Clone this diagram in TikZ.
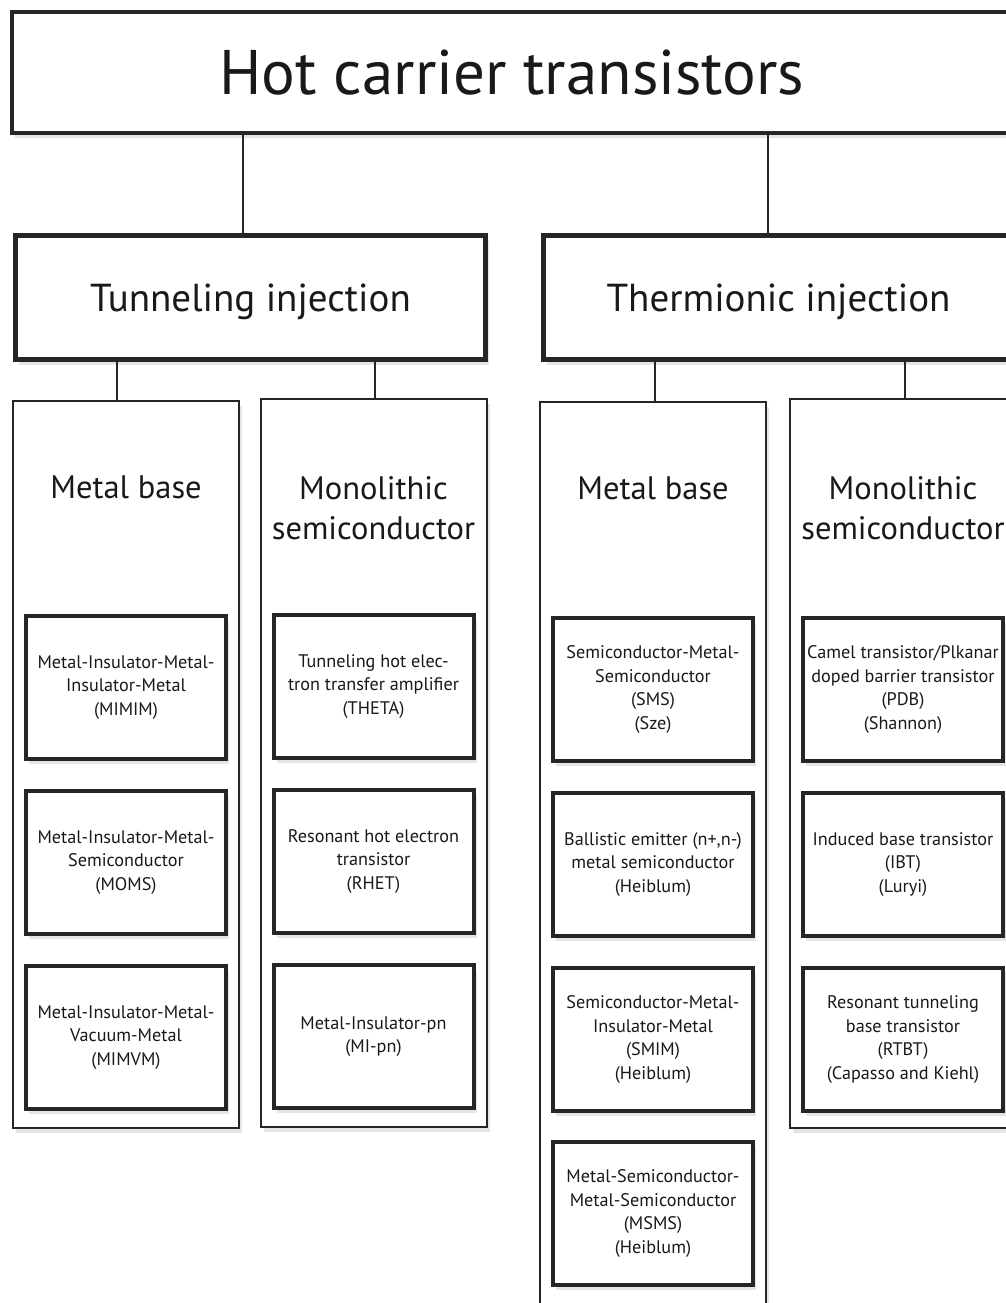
\documentclass[tikz,border=0pt]{standalone}
\usepackage{fontspec}
\setmainfont{PT Sans}
\usetikzlibrary{positioning,shadows}

\tikzset{
  box/.style={draw=black!85, fill=white,
    drop shadow={shadow xshift=3pt, shadow yshift=-5pt, opacity=0.2}},
  topbox/.style={box, line width=4pt, minimum width=1000pt, minimum height=121pt,
    font=\fontsize{63}{66}\selectfont},
  injbox/.style={box, line width=5pt, minimum width=470pt, minimum height=124pt,
    text depth=0pt, font=\fontsize{39}{44}\selectfont},
  column/.style={box, line width=2pt, minimum width=226pt, anchor=north},
  headtext/.style={font=\fontsize{32.5}{40}\selectfont, align=center, inner sep=0pt},
  typebox/.style={box, line width=4pt, minimum width=200pt, minimum height=143pt,
    align=center, inner sep=0pt, font=\fontsize{18.2}{23.5}\selectfont},
  link/.style={line width=2.5pt, draw=black!85},
}

\begin{document}
\begin{tikzpicture}[x=1pt,y=-1pt,text=black!90]
  \useasboundingbox (0,0) rectangle (1005,1303);
  \fill[white] (0,0) rectangle (1005,1303);

  % top level
  \node[topbox] (top) at (512,72.5) {Hot carrier transistors};
  \node[injbox] (tun) at (250.5,297.5) {Tunneling injection};
  \node[injbox] (therm) at (778.5,297.5) {Thermionic injection};

  % columns
  \node[column, minimum height=727pt] (tunmb) at (126,400) {};
  \node[column, minimum height=728pt] (tunmono) at (373.5,398) {};
  \node[column, minimum height=960pt] (thmb) at (653,401) {};
  \node[column, minimum height=729pt] (thmono) at (903,398) {};

  \node[headtext, below=76pt of tunmb.north] (tunmbt) {Metal base};
  \node[headtext, below=78pt of tunmono.north] (tunmonot) {Monolithic\\semiconductor};
  \node[headtext, below=76pt of thmb.north] (thmbt) {Metal base};
  \node[headtext, below=78pt of thmono.north] (thmonot) {Monolithic\\semiconductor};

  % tunneling, metal base
  \node[typebox, below=214pt of tunmb.north] (mimim) {Metal-Insulator-Metal-\\Insulator-Metal\\(MIMIM)};
  \node[typebox, below=28pt of mimim] (moms) {Metal-Insulator-Metal-\\Semiconductor\\(MOMS)};
  \node[typebox, below=28pt of moms] (mimvm) {Metal-Insulator-Metal-\\Vacuum-Metal\\(MIMVM)};

  % tunneling, monolithic
  \node[typebox, below=215pt of tunmono.north] (theta) {Tunneling hot elec-\\tron transfer amplifier\\(THETA)};
  \node[typebox, below=28pt of theta] (rhet) {Resonant hot electron\\transistor\\(RHET)};
  \node[typebox, below=28pt of rhet] (mipn) {Metal-Insulator-pn\\(MI-pn)};

  % thermionic, metal base
  \node[typebox, below=215pt of thmb.north] (sms) {Semiconductor-Metal-\\Semiconductor\\(SMS)\\(Sze)};
  \node[typebox, below=28pt of sms] (ballistic) {Ballistic emitter (n+,n-)\\metal semiconductor\\(Heiblum)};
  \node[typebox, below=28pt of ballistic] (smim) {Semiconductor-Metal-\\Insulator-Metal\\(SMIM)\\(Heiblum)};
  \node[typebox, below=27pt of smim] (msms) {Metal-Semiconductor-\\Metal-Semiconductor\\(MSMS)\\(Heiblum)};

  % thermionic, monolithic
  \node[typebox, below=218pt of thmono.north] (pdb) {Camel transistor/Plkanar\\doped barrier transistor\\(PDB)\\(Shannon)};
  \node[typebox, below=28pt of pdb] (ibt) {Induced base transistor\\(IBT)\\(Luryi)};
  \node[typebox, below=28pt of ibt] (rtbt) {Resonant tunneling\\base transistor\\(RTBT)\\(Capasso and Kiehl)};

  % links
  \draw[link] ([xshift=-7.5pt]tun.north) -- ([xshift=-7.5pt]tun.north |- top.south);
  \draw[link] ([xshift=-10.5pt]therm.north) -- ([xshift=-10.5pt]therm.north |- top.south);
  \draw[link] ([xshift=-9pt]tunmb.north) -- ([xshift=-9pt]tunmb.north |- tun.south);
  \draw[link] ([xshift=1.5pt]tunmono.north) -- ([xshift=1.5pt]tunmono.north |- tun.south);
  \draw[link] ([xshift=2pt]thmb.north) -- ([xshift=2pt]thmb.north |- therm.south);
  \draw[link] ([xshift=2pt]thmono.north) -- ([xshift=2pt]thmono.north |- therm.south);
\end{tikzpicture}
\end{document}
